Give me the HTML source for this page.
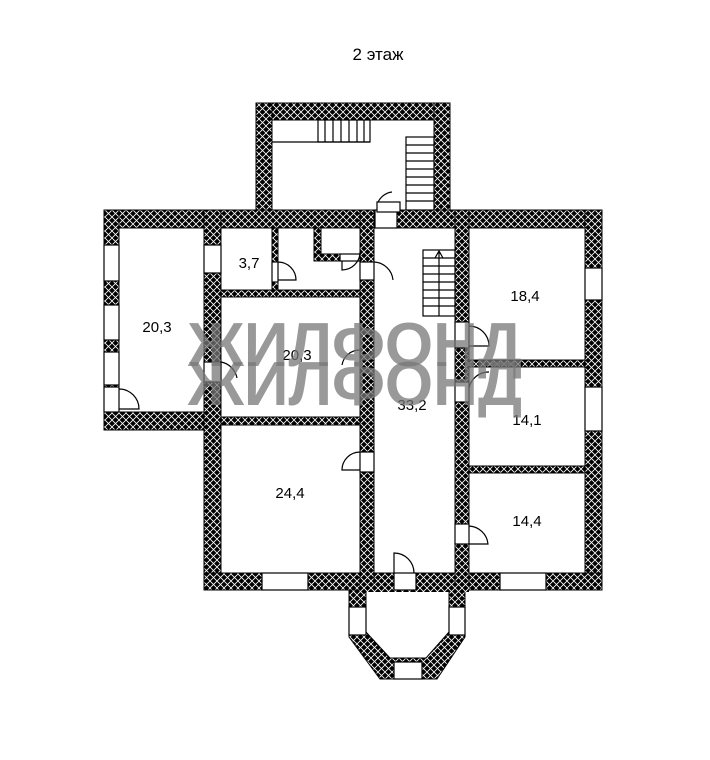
<!DOCTYPE html>
<html><head><meta charset="utf-8"><style>
html,body{margin:0;padding:0;background:#fff}
svg{display:block}
text{font-family:"Liberation Sans","DejaVu Sans",sans-serif}
</style></head><body>
<svg width="710" height="760" viewBox="0 0 710 760" xmlns="http://www.w3.org/2000/svg">
<defs>
<pattern id="h" width="7" height="7" patternUnits="userSpaceOnUse">
<rect width="7" height="7" fill="#000"/>
<path d="M0,0L7,7M7,0L0,7" stroke="#fff" stroke-width="0.8"/>
</pattern>
</defs>
<text x="378" y="60" font-size="17" text-anchor="middle" fill="#000">2 этаж</text>
<g fill="url(#h)" stroke="#000" stroke-width="1">
<rect x="256" y="103" width="194" height="17"/>
<rect x="256" y="103" width="16" height="125"/>
<rect x="434" y="103" width="16" height="125"/>
<rect x="104" y="210" width="498" height="18"/>
<rect x="104" y="210" width="15" height="220"/>
<rect x="104" y="412" width="117" height="18"/>
<rect x="204" y="210" width="17" height="380"/>
<rect x="585" y="210" width="17" height="380"/>
<rect x="204" y="573" width="398" height="17"/>
<rect x="360" y="210" width="14" height="380"/>
<rect x="455" y="210" width="14" height="380"/>
<rect x="221" y="290" width="139" height="7"/>
<rect x="221" y="417" width="139" height="8"/>
<rect x="469" y="360" width="116" height="7"/>
<rect x="469" y="466" width="116" height="7"/>
<rect x="272" y="228" width="6" height="62"/>
<rect x="314" y="228" width="7" height="32"/>
<rect x="314" y="254" width="46" height="7"/>
<polygon points="349,590 465,590 465,637 437,679 380,679 349,637"/>
</g>
<polygon points="366,590 449,590 449,632 426,658 390,658 366,632" fill="#fff" stroke="#000"/>
<rect x="360" y="584" width="109" height="8" fill="url(#h)"/>
<g fill="#fff" stroke="#000" stroke-width="1.2">
<rect x="104" y="245" width="15" height="36"/>
<rect x="104" y="305" width="15" height="35"/>
<rect x="104" y="352" width="15" height="33"/>
<rect x="104" y="387" width="15" height="25"/>
<rect x="204" y="245" width="17" height="28"/>
<rect x="204" y="362" width="17" height="20"/>
<rect x="585" y="268" width="17" height="32"/>
<rect x="585" y="387" width="17" height="44"/>
<rect x="262" y="573" width="46" height="17"/>
<rect x="500" y="573" width="46" height="17"/>
<rect x="349" y="607" width="17" height="28"/>
<rect x="449" y="607" width="16" height="28"/>
<rect x="394" y="662" width="28" height="17"/>
<rect x="375" y="210" width="22" height="18"/>
<rect x="377" y="202" width="23" height="10"/>
<rect x="360" y="262" width="14" height="18"/>
<rect x="455" y="322" width="14" height="26"/>
<rect x="455" y="382" width="14" height="20"/>
<rect x="455" y="524" width="14" height="20"/>
<rect x="360" y="452" width="14" height="20"/>
<rect x="394" y="573" width="22" height="17"/>
<rect x="272" y="262" width="6" height="20"/>
<rect x="340" y="254" width="20" height="7"/>
</g>
<g fill="none" stroke="#000" stroke-width="1.2">
<path d="M119,389 A20,20 0 0 1 139,409 L119,409"/>
<path d="M221,362 A20,20 0 0 1 237,378"/>
<path d="M278,262 A18,18 0 0 1 296,280 L278,280"/>
<path d="M374,262 A20,20 0 0 1 393,280"/>
<path d="M360,252 A18,18 0 0 1 342,270 L342,261"/>
<path d="M360,350 A18,18 0 0 0 342,365"/>
<path d="M360,452 A18,18 0 0 0 342,470 L360,470"/>
<path d="M469,326 A20,20 0 0 1 489,346 L469,346"/>
<path d="M469,388 A20,20 0 0 1 489,372"/>
<path d="M469,526 A20,20 0 0 1 488,544 L469,544"/>
<path d="M394,573 L394,553 A20,20 0 0 1 414,573"/>
<path d="M378,202 A18,18 0 0 1 392,192"/>
<rect x="318" y="120" width="52" height="22"/>
<path d="M272,142 H370 M325,120 V142 M333,120 V142 M341,120 V142 M349,120 V142 M357,120 V142 M364,120 V142"/>
<rect x="406" y="137" width="28" height="73"/>
<path d="M406,145 H434 M406,153 H434 M406,161 H434 M406,169 H434 M406,177 H434 M406,185 H434 M406,193 H434 M406,201 H434"/>
<rect x="423" y="250" width="32" height="66"/>
<path d="M423,258 H455 M423,266 H455 M423,274 H455 M423,282 H455 M423,290 H455 M423,298 H455 M423,306 H455 M439,252 V316 M435,258 L439,251 L443,258"/>
</g>
<g font-size="15" fill="#000" text-anchor="middle">
<text x="157" y="332">20,3</text>
<text x="249" y="268">3,7</text>
<text x="297" y="360">20,3</text>
<text x="412" y="410">33,2</text>
<text x="290" y="498">24,4</text>
<text x="525" y="301">18,4</text>
<text x="527" y="425">14,1</text>
<text x="527" y="526">14,4</text>
</g>
<g font-size="62" font-weight="bold" fill="#777" fill-opacity="0.75" text-anchor="middle">
<text x="355" y="366">ЖИЛФОНД</text>
<text x="355" y="405">ЖИЛФОНД</text>
</g>
</svg>
</body></html>
